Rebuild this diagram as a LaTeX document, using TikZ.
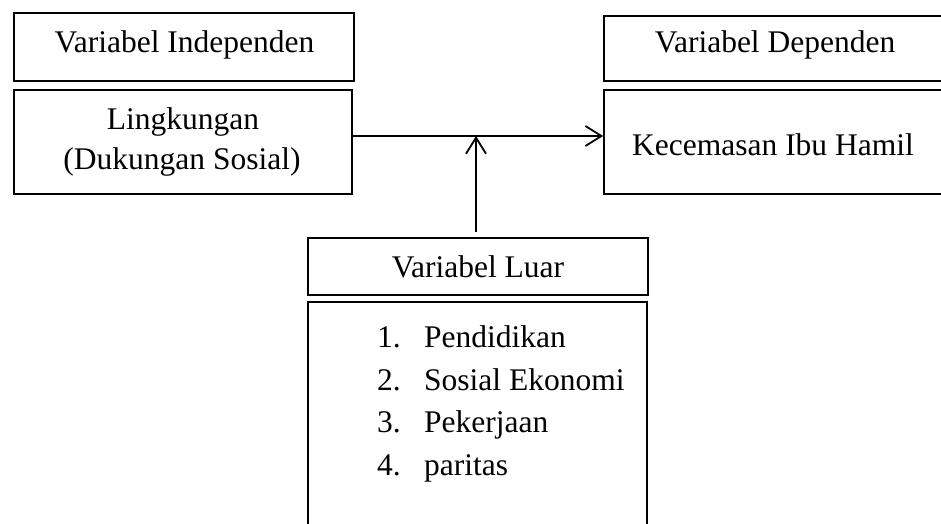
\documentclass[tikz,border=0pt]{standalone}
\usepackage{fontspec}
\setmainfont{Liberation Serif}
\usetikzlibrary{arrows.meta}
\begin{document}
\begin{tikzpicture}[x=1pt,y=1pt,
  box/.style={draw=black, line width=1.8pt, inner sep=0pt},
  txt/.style={font=\fontsize{31.5}{40}\selectfont, inner sep=0pt, anchor=base},
  itm/.style={font=\fontsize{31.5}{40}\selectfont, inner sep=0pt, anchor=base west},
  arr/.style={line width=1.8pt, -{Straight Barb[length=16pt,width=20pt,line width=1.8pt]}}]
\clip (0,0) rectangle (941,523);
% boxes
\node[box, minimum width=340pt, minimum height=68pt] (indep) at (184,476) {};
\node[box, minimum width=338pt, minimum height=104pt] (lingk) at (183,381) {};
\node[box, minimum width=342pt, minimum height=65pt] (dep) at (775,474.5) {};
\node[box, minimum width=342pt, minimum height=104pt] (kec) at (775,381) {};
\node[box, minimum width=340pt, minimum height=57pt] (luar) at (478,256.5) {};
\node[box, minimum width=339pt, minimum height=250pt] (list) at (477.5,96) {};
% texts
\node[txt] (tindep) at (184.5,470) {Variabel Independen};
\node[txt] (tlingk1) at (183,393) {Lingkungan};
\node[txt] (tlingk2) at (182,353) {(Dukungan Sosial)};
\node[txt] (tdep) at (775,470) {Variabel Dependen};
\node[txt] (tkec) at (773,367) {Kecemasan Ibu Hamil};
\node[txt] (tluar) at (478,246) {Variabel Luar};
\node[itm] (n1) at (377,176) {1.};
\node[itm] (i1) at (424,176) {Pendidikan};
\node[itm] (n2) at (377,133) {2.};
\node[itm] (i2) at (424,133) {Sosial Ekonomi};
\node[itm] (n3) at (377,91) {3.};
\node[itm] (i3) at (424,91) {Pekerjaan};
\node[itm] (n4) at (377,48) {4.};
\node[itm] (i4) at (424,48) {paritas};
% connectors
\coordinate (join) at (476,387);
\draw[arr] ([yshift=6pt]lingk.east) -- ([yshift=6pt]kec.west);
\draw[arr] ([xshift=-2pt,yshift=5pt]luar.north) -- (join);
\end{tikzpicture}
\end{document}
